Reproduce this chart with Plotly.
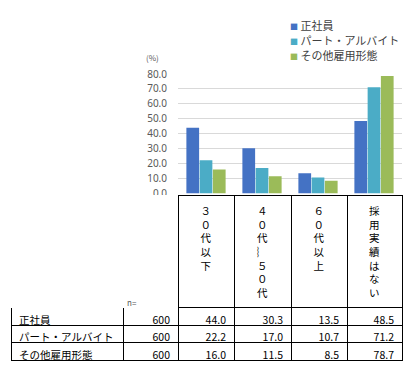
import plotly.graph_objects as go

# ---------------- data ----------------
categories = ["３０代以下", "４０代～５０代", "６０代以上", "採用実績はない"]
series_names = ["正社員", "パート・アルバイト", "その他雇用形態"]
n_values = [600, 600, 600]
seishain = [44.0, 30.3, 13.5, 48.5]
part_arbeit = [22.2, 17.0, 10.7, 71.2]
sonota = [16.0, 11.5, 8.5, 78.7]
y_ticks = [0, 10, 20, 30, 40, 50, 60, 70, 80]
series_values = [seishain, part_arbeit, sonota]
colors = ["#4472C4", "#4BACC6", "#9BBB59"]

# ---------------- layout helpers (pixel -> paper) ----------------
W, H = 417, 371
def fx(p):
    return p / W
def fy(p):
    return 1 - p / H

JP = "Noto Sans CJK JP"

fig = go.Figure()

for name, vals, col in zip(series_names, series_values, colors):
    fig.add_trace(go.Bar(
        x=categories, y=vals, name=name,
        marker=dict(color=col, line=dict(width=0)),
        showlegend=False, xaxis="x", yaxis="y",
    ))

# ---------------- data table ----------------
def vertical(s):
    return "<br>".join("︴" if ch == "～" else ch for ch in s)

header_vals = ["", ""] + [vertical(c) for c in categories]
cell_cols = [series_names, n_values] + [[vals[i] for vals in series_values]
                                        for i in range(len(categories))]

fig.add_trace(go.Table(
    domain=dict(x=[fx(11), fx(402)], y=[fy(369), fy(195)]),
    columnwidth=[112, 55, 56, 57, 56, 55],
    header=dict(
        values=header_vals,
        align="center",
        height=112,
        line=dict(color=["rgba(0,0,0,0)", "rgba(0,0,0,0)"] + ["#000000"] * 4, width=1),
        fill=dict(color="white"),
        font=dict(family=JP, size=10.5, color="#000000"),
    ),
    cells=dict(
        values=cell_cols,
        format=["", "d", ".1f", ".1f", ".1f", ".1f"],
        align=["left", "right", "right", "right", "right", "right"],
        height=17.5,
        line=dict(color="#000000", width=1),
        fill=dict(color="white"),
        font=dict(family=JP, size=10.5, color="#000000"),
    ),
))

# ---------------- legend as annotations ----------------
annotations = []
for i, (name, col) in enumerate(zip(series_names, colors)):
    annotations.append(dict(
        xref="paper", yref="paper", x=fx(288), y=fy(25 + 15 * i),
        xanchor="left", yanchor="middle", showarrow=False,
        text=f'<span style="color:{col};font-size:8px">■</span> {name}',
        font=dict(family=JP, size=11, color="#404040"),
    ))
annotations.append(dict(
    xref="paper", yref="paper", x=fx(152), y=fy(57),
    xanchor="center", yanchor="middle", showarrow=False,
    text="(%)", font=dict(family=JP, size=8, color="#595959"),
))
annotations.append(dict(
    xref="paper", yref="paper", x=fx(125), y=fy(302),
    xanchor="left", yanchor="middle", showarrow=False,
    text="n=", font=dict(family=JP, size=8, color="#595959"),
))

fig.update_layout(
    width=W, height=H,
    margin=dict(l=0, r=0, t=0, b=0, pad=0, autoexpand=False),
    paper_bgcolor="white", plot_bgcolor="white",
    barmode="group", bargap=0.29, bargroupgap=0.04,
    xaxis=dict(domain=[fx(178), fx(402)], showticklabels=False, showgrid=False,
               zeroline=False, showline=False, ticks="", automargin=False),
    yaxis=dict(domain=[fy(193.5), fy(74)], range=[0, 80], tickvals=y_ticks,
               tickformat=".1f", showgrid=True, gridcolor="#D9D9D9", gridwidth=1,
               zeroline=False, showline=False, ticks="", ticklabelstandoff=10,
               automargin=False,
               tickfont=dict(family="Noto Sans", size=10, color="#595959")),
    annotations=annotations,
    font=dict(family=JP),
)

fig.write_html(
    "out.html",
    config={"displayModeBar": False},
    post_script="document.body.style.margin='0';document.body.style.padding='0';",
)
